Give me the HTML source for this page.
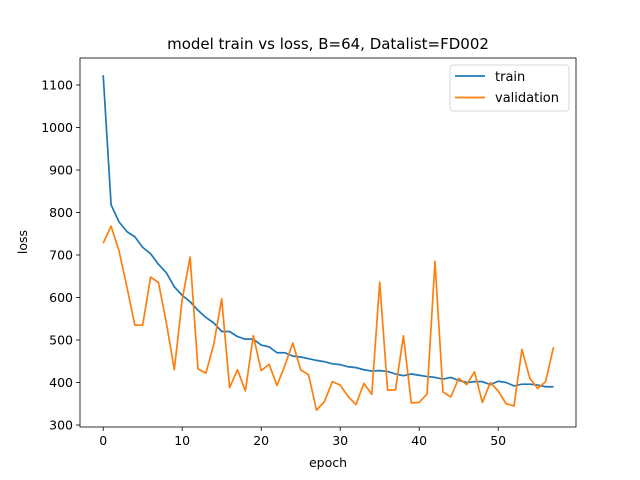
<!DOCTYPE html>
<html><head><meta charset="utf-8"><style>body{margin:0;background:#fff}svg{display:block;font-family:"DejaVu Sans","Liberation Sans",sans-serif}</style></head>
<body>
<svg id="chart" width="640" height="480"></svg>
<script>
const epochs = Array.from({length:58},(_,i)=>i);
const trainLoss = [1123,818,778,755,743,718,703,678,658,625,605,590,570,553,540,520,520,508,502,502,488,484,470,470,462,460,456,452,449,444,442,437,435,430,427,428,426,420,416,420,417,414,412,408,412,405,400,402,402,395,403,400,392,396,396,394,390,390];
const valLoss = [728,768,710,625,535,535,648,635,540,430,595,695,432,422,490,597,388,430,380,510,428,443,393,440,493,430,418,335,355,402,394,367,348,398,372,636,382,383,510,352,353,373,685,378,366,410,395,425,353,400,380,350,345,478,410,386,402,483];
const xTicks = [0,10,20,30,40,50];
const yTicks = [300,400,500,600,700,800,900,1000,1100];
const L=80,R=576,T=58,B=427;
const sx=v=>103.2+v*7.9;
const sy=v=>425-(v-300)*0.425;
const NS='http://www.w3.org/2000/svg';
const svg=document.getElementById('chart');
function mk(tag,attrs,parent){const e=document.createElementNS(NS,tag);for(const k in attrs)e.setAttribute(k,attrs[k]);(parent||svg).appendChild(e);return e;}
const title=mk('text',{x:328,y:49,'text-anchor':'middle','font-size':15});title.textContent='model train vs loss, B=64, Datalist=FD002';


xTicks.forEach(t=>{const g=mk('g',{});


mk('line',{x1:sx(t),x2:sx(t),y1:B,y2:B+4,stroke:'#000','stroke-width':0.8},g);
const tx=mk('text',{x:sx(t),y:B+18,'text-anchor':'middle','font-size':12.5},g);tx.textContent=t;});
yTicks.forEach(t=>{const g=mk('g',{});


mk('line',{x1:L-4,x2:L,y1:sy(t),y2:sy(t),stroke:'#000','stroke-width':0.8},g);
const tx=mk('text',{x:L-7,y:sy(t)+4.5,'text-anchor':'end','font-size':12.5},g);tx.textContent=t;});
const xl=mk('text',{x:328,y:467,'text-anchor':'middle','font-size':12.5});xl.textContent='epoch';


const yl=mk('text',{x:27,y:242,'text-anchor':'middle','font-size':12.5,transform:'rotate(-90 27 242)'});yl.textContent='loss';


function line(data,color,name){const p=mk('polyline',{points:data.map((v,i)=>sx(epochs[i])+','+sy(v)).join(' '),fill:'none',stroke:color,'stroke-width':1.7,'stroke-linejoin':'round'});

}
line(trainLoss,'#1f77b4','train-line');
line(valLoss,'#ff7f0e','validation-line');
const frame=mk('rect',{x:L,y:T,width:R-L,height:B-T,fill:'none',stroke:'#000','stroke-width':0.8});


const lg=mk('g',{});


mk('rect',{x:450,y:65,width:119,height:46,rx:3,fill:'#fff',stroke:'#ccc','stroke-width':0.8},lg);
mk('line',{x1:455,x2:485,y1:76,y2:76,stroke:'#1f77b4','stroke-width':1.7},lg);
const t1=mk('text',{x:495,y:81,'font-size':13},lg);t1.textContent='train';
mk('line',{x1:455,x2:485,y1:97.5,y2:97.5,stroke:'#ff7f0e','stroke-width':1.7},lg);
const t2=mk('text',{x:495,y:102,'font-size':13},lg);t2.textContent='validation';
</script>
</body></html>
